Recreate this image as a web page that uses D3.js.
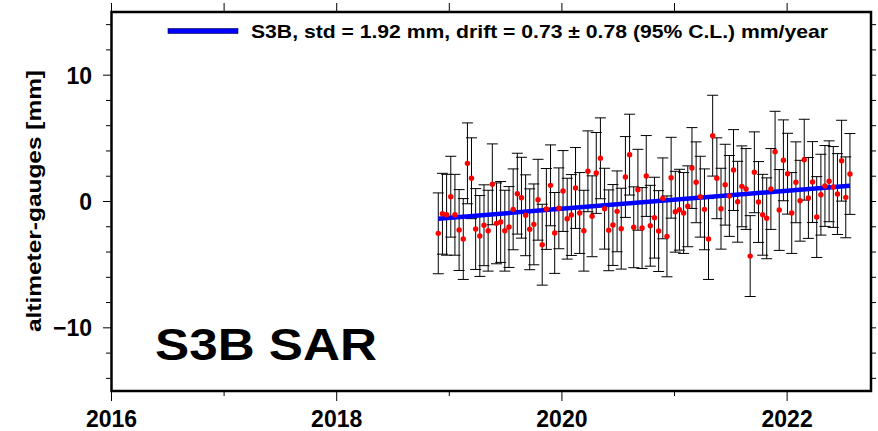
<!DOCTYPE html>
<html>
<head>
<meta charset="utf-8">
<script src="https://cdn.jsdelivr.net/npm/d3@7"></script>
<style>
body { margin: 0; background: #fff; }
svg { display: block; font-family: "Liberation Sans", Arial, Helvetica, sans-serif; font-weight: bold; }
</style>
</head>
<body>
<div id="chart"></div>
<script>
var W = 878, H = 431

var years = [
  2018.902, 2018.939, 2018.976, 2019.013, 2019.050, 2019.087, 2019.124, 2019.161, 2019.197, 2019.234,
  2019.271, 2019.308, 2019.345, 2019.382, 2019.419, 2019.456, 2019.493, 2019.530, 2019.567, 2019.604,
  2019.641, 2019.678, 2019.714, 2019.751, 2019.788, 2019.825, 2019.862, 2019.899, 2019.936, 2019.973,
  2020.010, 2020.047, 2020.084, 2020.121, 2020.158, 2020.195, 2020.231, 2020.268, 2020.305, 2020.342,
  2020.379, 2020.416, 2020.453, 2020.490, 2020.527, 2020.564, 2020.601, 2020.638, 2020.675, 2020.712,
  2020.749, 2020.785, 2020.822, 2020.859, 2020.896, 2020.933, 2020.970, 2021.007, 2021.044, 2021.081,
  2021.118, 2021.155, 2021.192, 2021.229, 2021.266, 2021.302, 2021.339, 2021.376, 2021.413, 2021.450,
  2021.487, 2021.524, 2021.561, 2021.598, 2021.635, 2021.672, 2021.709, 2021.746, 2021.783, 2021.819,
  2021.856, 2021.893, 2021.930, 2021.967, 2022.004, 2022.041, 2022.078, 2022.115, 2022.152, 2022.189,
  2022.226, 2022.263, 2022.300, 2022.336, 2022.373, 2022.410, 2022.447, 2022.484, 2022.521, 2022.558
]

var diffs = [
  -2.52, -0.97, -1.05, 0.38, -1.05, -2.26, -2.97, 3.02, 1.84, -2.18,
  -2.73, -1.88, -2.31, 1.36, -1.73, -1.62, -2.31, -2.02, -0.62, 0.62,
  0.30, -1.09, -2.20, -1.81, 0.14, -3.42, -0.59, 1.28, -2.49, -0.54,
  0.83, -1.36, -1.07, 1.07, -0.91, -2.31, 2.39, -1.17, 2.26, 3.42,
  -0.57, -2.28, -1.86, -0.78, -2.15, 1.94, 3.71, -2.04, 0.93, -2.10,
  2.02, -1.92, -1.28, -2.34, 0.25, -2.76, 1.88, -0.81, -0.65, -0.91,
  -0.38, 2.65, 1.52, 0.38, -0.62, -2.97, 5.21, 1.84, -0.57, 1.33,
  0.44, 2.49, -0.02, 1.20, 0.99, -4.32, 2.31, -0.04, -1.05, -1.33,
  0.99, 3.94, -0.67, 3.26, 2.20, -0.91, 1.52, 0.06, 3.31, 0.28,
  1.54, -1.23, 0.54, 1.23, 1.60, 1.15, 0.59, 3.23, 0.33, 2.18
]

var errHalf = 3.2

var trendYears = [2018.902, 2022.558]
var trendValues = [-1.36, 1.25]

var xTickYears = [2016, 2017, 2018, 2019, 2020, 2021, 2022]
var xLabelYears = [2016, 2018, 2020, 2022]
var yMinorTicks = [-14, -12, -10, -8, -6, -4, -2, 0, 2, 4, 6, 8, 10, 12, 14]
var yLabelTicks = [-10, 0, 10]

var legendText = "S3B, std = 1.92 mm, drift = 0.73 \u00b1 0.78 (95% C.L.) mm/year"
var panelText = "S3B SAR"
var yTitle = "altimeter-gauges [mm]"

var x = d3.scaleLinear().domain([2016, 2022.745]).range([111.5, 871])
var y = d3.scaleLinear().domain([-15, 15]).range([391, 12])

var svg = d3.select("#chart").append("svg").attr("width", W).attr("height", H)

var points = years.map(function(t, i){ return {t: t, v: diffs[i]} })

/* error bars */
var bars = svg.append("g").attr("stroke", "#000").attr("stroke-width", 1)
bars.selectAll(".bar").data(points).enter().append("line")
    .attr("x1", function(d){ return x(d.t) }).attr("x2", function(d){ return x(d.t) })
    .attr("y1", function(d){ return y(d.v + errHalf) }).attr("y2", function(d){ return y(d.v - errHalf) })
bars.selectAll(".capTop").data(points).enter().append("line")
    .attr("x1", function(d){ return x(d.t) - 5.5 }).attr("x2", function(d){ return x(d.t) + 5.5 })
    .attr("y1", function(d){ return y(d.v + errHalf) }).attr("y2", function(d){ return y(d.v + errHalf) })
bars.selectAll(".capBot").data(points).enter().append("line")
    .attr("x1", function(d){ return x(d.t) - 5.5 }).attr("x2", function(d){ return x(d.t) + 5.5 })
    .attr("y1", function(d){ return y(d.v - errHalf) }).attr("y2", function(d){ return y(d.v - errHalf) })

/* drift line */
svg.append("path")
    .datum(trendYears.map(function(t, i){ return [t, trendValues[i]] }))
    .attr("fill", "none").attr("stroke", "#0000ff").attr("stroke-width", 4.5)
    .attr("d", d3.line().x(function(d){ return x(d[0]) }).y(function(d){ return y(d[1]) }))

svg.selectAll(".dot").data(points).enter().append("circle")
    .attr("cx", function(d){ return x(d.t) }).attr("cy", function(d){ return y(d.v) })
    .attr("r", 2.7).attr("fill", "#ff0000")

/* frame + ticks, GMT style */
var ticks = svg.append("g").attr("stroke", "#000").attr("stroke-width", 1)
ticks.selectAll(".tb").data(xTickYears).enter().append("line")
    .attr("x1", function(d){ return x(d) }).attr("x2", function(d){ return x(d) })
    .attr("y1", 391).attr("y2", function(d){ return xLabelYears.indexOf(d) >= 0 ? 401 : 396 })
ticks.selectAll(".tt").data(xTickYears).enter().append("line")
    .attr("x1", function(d){ return x(d) }).attr("x2", function(d){ return x(d) })
    .attr("y1", 12).attr("y2", 3)
ticks.selectAll(".tl").data(yMinorTicks).enter().append("line")
    .attr("y1", function(d){ return y(d) }).attr("y2", function(d){ return y(d) })
    .attr("x1", function(d){ return yLabelTicks.indexOf(d) >= 0 ? 103 : 106 }).attr("x2", 111.5)
ticks.selectAll(".tr").data(yMinorTicks).enter().append("line")
    .attr("y1", function(d){ return y(d) }).attr("y2", function(d){ return y(d) })
    .attr("x1", 871).attr("x2", 876)

svg.append("rect").attr("x", x(2016)).attr("y", y(15))
    .attr("width", x(2022.745) - x(2016)).attr("height", y(-15) - y(15))
    .attr("fill", "none").attr("stroke", "#000").attr("stroke-width", 2.5)

svg.selectAll(".xl").data(xLabelYears).enter().append("text")
    .attr("x", function(d){ return x(d) }).attr("y", 426.5)
    .attr("text-anchor", "middle").attr("font-size", 23)
    .text(function(d){ return d })

svg.selectAll(".yl").data(yLabelTicks).enter().append("text")
    .attr("x", 92).attr("y", function(d){ return y(d) + 8.5 })
    .attr("text-anchor", "end").attr("font-size", 23)
    .text(function(d){ return d < 0 ? "\u2212" + Math.abs(d) : d })

svg.append("text")
    .attr("transform", "translate(41," + 201 + ") rotate(-90)")
    .attr("text-anchor", "middle").attr("font-size", 21)
    .attr("textLength", 262).attr("lengthAdjust", "spacingAndGlyphs")
    .text(yTitle)

/* legend */
svg.append("rect").attr("x", 168).attr("y", 28.5).attr("width", 70).attr("height", 5)
    .attr("fill", "#0000ff").attr("stroke", "#000044").attr("stroke-width", 0.6)
svg.append("text").attr("x", 251).attr("y", 37.5).attr("font-size", 19)
    .attr("textLength", 577).attr("lengthAdjust", "spacingAndGlyphs")
    .text(legendText)

svg.append("text").attr("x", 155).attr("y", 359.5).attr("font-size", 45)
    .attr("textLength", 222).attr("lengthAdjust", "spacingAndGlyphs")
    .text(panelText)
</script>
</body>
</html>
